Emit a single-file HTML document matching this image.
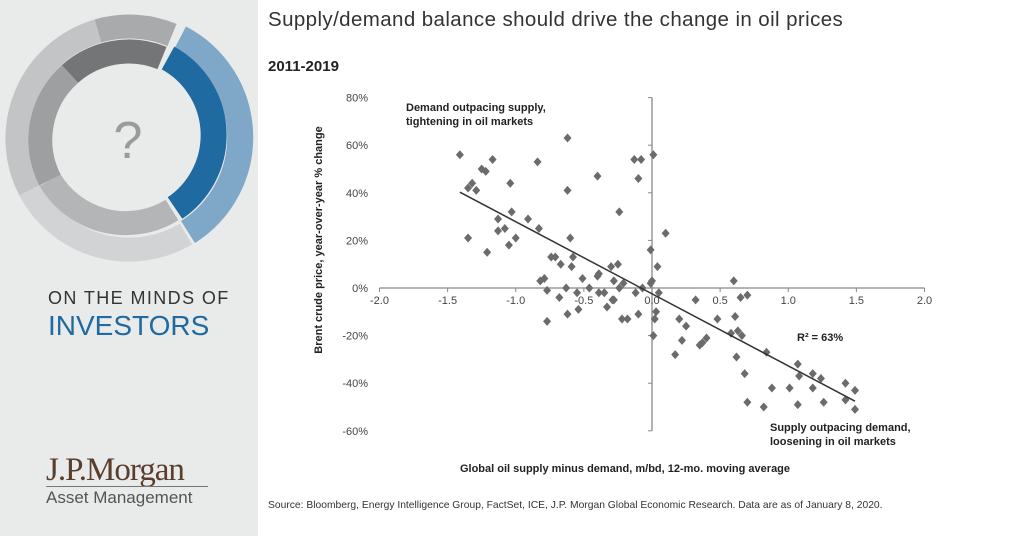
<!DOCTYPE html>
<html><head><meta charset="utf-8"><style>
body{margin:0;width:1024px;height:536px;overflow:hidden;background:#fff;font-family:"Liberation Sans",Arial,sans-serif;position:relative}
#left{position:absolute;left:0;top:0;width:258px;height:536px;background:#e9eaea}
.abs{position:absolute}
</style></head><body>
<div id="left">
<svg class="abs" style="left:0;top:0" width="258" height="270">
<g fill="none">
<path d="M180 38 A112 112 0 0 1 188 232" stroke="#7ea7c8" stroke-width="26"/>
<path d="M168 58 A88 88 0 0 1 175 208" stroke="#1f6aa0" stroke-width="26"/>
<path d="M186 234 A112 112 0 0 1 30 190" stroke="#d2d3d4" stroke-width="24"/>
<path d="M30 190 A112 112 0 0 1 98 31" stroke="#c3c4c5" stroke-width="24"/>
<path d="M98 31 A112 112 0 0 1 172 35" stroke="#a9aaab" stroke-width="24"/>
<path d="M172 210 A88 88 0 0 1 50 180" stroke="#b4b5b6" stroke-width="24"/>
<path d="M50 180 A88 88 0 0 1 70 74" stroke="#9e9fa0" stroke-width="24"/>
<path d="M70 74 A88 88 0 0 1 162 58" stroke="#747576" stroke-width="24"/>
</g>
<text x="128" y="158" font-size="52" fill="#9a9b9c" text-anchor="middle" font-family="Liberation Sans">?</text>
</svg>
<div class="abs" style="left:48px;top:288px;font-size:18px;letter-spacing:1.4px;color:#333">ON THE MINDS OF</div>
<div class="abs" style="left:48px;top:310px;font-size:28px;color:#1f6aa0">INVESTORS</div>
<div class="abs" style="left:46px;top:452px;font-size:33px;color:#5a3e2b;font-family:'Liberation Serif',serif;letter-spacing:-1px">J.P.Morgan</div>
<div class="abs" style="left:46px;top:486px;width:162px;border-top:1px solid #777"></div>
<div class="abs" style="left:46px;top:488px;font-size:17px;color:#555">Asset Management</div>
</div>
<div class="abs" style="left:268px;top:8px;font-size:20.5px;letter-spacing:0.4px;color:#333">Supply/demand balance should drive the change in oil prices</div>
<div class="abs" style="left:268px;top:58px;font-size:15px;font-weight:bold;color:#222">2011-2019</div>
<div class="abs" style="left:268px;top:500px;font-size:10.3px;color:#333">Source: Bloomberg, Energy Intelligence Group, FactSet, ICE, J.P. Morgan Global Economic Research. Data are as of January 8, 2020.</div>
<svg id="chart" class="abs" style="left:0;top:0" width="1024" height="536"></svg>
<script>
const xVals=[-1.41,-1.17,-1.25,-1.22,-1.32,-1.35,-1.29,-1.04,-0.84,-0.62,-0.62,-0.40,-0.13,-0.08,0.01,-0.10,-0.24,-1.35,-1.21,-1.13,-1.13,-1.08,-1.03,-1.00,-1.05,-0.91,-0.83,-0.60,-0.58,-0.74,-0.71,-0.67,-0.59,-0.82,-0.79,-0.77,-0.51,-0.40,-0.39,-0.30,-0.25,-0.28,-0.21,-0.24,-0.63,-0.55,-0.46,-0.39,-0.35,-0.12,-0.01,-0.01,0.04,-0.68,-0.62,-0.54,-0.28,-0.33,-0.22,-0.18,-0.10,-0.77,0.01,0.02,0.10,0.00,0.05,-0.07,-0.29,0.03,0.17,0.20,0.25,0.22,0.32,0.35,0.37,0.40,0.48,0.60,0.65,0.70,0.61,0.58,0.63,0.66,0.62,0.68,0.70,0.82,0.84,0.88,1.01,1.07,1.07,1.08,1.18,1.18,1.24,1.26,1.42,1.42,1.49,1.49];
const yVals=[56,54,50,49,44,42,41,44,53,63,41,47,54,54,56,46,32,21,15,29,24,25,32,21,18,29,25,21,13,13,13,10,9,3,4,-1,4,5,6,9,10,3,2,0,0,-2,0,-2,-2,-2,2,16,9,-4,-11,-9,-5,-8,-13,-13,-11,-14,-20,-13,23,3,-2,0,-5,-10,-28,-13,-16,-22,-5,-24,-23,-21,-13,3,-4,-3,-12,-19,-18,-20,-29,-36,-48,-50,-27,-42,-42,-49,-32,-37,-36,-42,-38,-48,-40,-47,-43,-51];
const xTicks=[-2.0,-1.5,-1.0,-0.5,0.0,0.5,1.0,1.5,2.0];
const yTicks=[80,60,40,20,0,-20,-40,-60];
const NS="http://www.w3.org/2000/svg",svg=document.getElementById('chart');
const sx=v=>652+v*136.25, sy=v=>288-v*2.38;
function mk(t,a,txt){const e=document.createElementNS(NS,t);for(const k in a)e.setAttribute(k,a[k]);if(txt!=null)e.textContent=txt;svg.appendChild(e);return e;}
let e;
e=mk('line',{x1:sx(-2),x2:sx(2),y1:sy(0),y2:sy(0),stroke:'#888','stroke-width':1.3});


e=mk('line',{x1:sx(0),x2:sx(0),y1:sy(80),y2:sy(-60),stroke:'#888','stroke-width':1.3});


xTicks.forEach(t=>{mk('line',{x1:sx(t),x2:sx(t),y1:sy(0),y2:sy(0)+4,stroke:'#888'});
e=mk('text',{x:sx(t),y:sy(0)+16,'font-size':11,fill:'#444','text-anchor':'middle'},t.toFixed(1));

});
yTicks.forEach(t=>{mk('line',{x1:sx(0)-4,x2:sx(0),y1:sy(t),y2:sy(t),stroke:'#888'});
e=mk('text',{x:368,y:sy(t)+4,'font-size':11,fill:'#444','text-anchor':'end'},t+'%');

});
xVals.forEach((x,i)=>{const cx=sx(x),cy=sy(yVals[i]);
e=mk('path',{d:`M${cx} ${cy-4.5}L${cx+4} ${cy}L${cx} ${cy+4.5}L${cx-4} ${cy}Z`,fill:'#6b6b6b'});

});
const n=xVals.length,mx=xVals.reduce((a,b)=>a+b)/n,my=yVals.reduce((a,b)=>a+b)/n;
let sxy=0,sxx=0;xVals.forEach((x,i)=>{sxy+=(x-mx)*(yVals[i]-my);sxx+=(x-mx)**2;});
const b=sxy/sxx,a=my-b*mx,x0=Math.min(...xVals),x1=Math.max(...xVals);
e=mk('line',{x1:sx(x0),y1:sy(a+b*x0),x2:sx(x1),y2:sy(a+b*x1),stroke:'#333','stroke-width':1.5});


const lab=(x,y,t,nm,anchor)=>{e=mk('text',{x:x,y:y,'font-size':11,'font-weight':'bold',fill:'#222','text-anchor':anchor||'start'},t);

};
lab(406,111,'Demand outpacing supply,','annotation-demand');
lab(406,125,'tightening in oil markets','annotation-demand-2');
lab(797,341,'R² = 63%','r-squared-label');
lab(770,431,'Supply outpacing demand,','annotation-supply');
lab(770,445,'loosening in oil markets','annotation-supply-2');
lab(625,472,'Global oil supply minus demand, m/bd, 12-mo. moving average','x-axis-title','middle');
e=mk('text',{x:0,y:0,'font-size':11,'font-weight':'bold',fill:'#222','text-anchor':'middle',transform:'translate(322,240) rotate(-90)'},'Brent crude price, year-over-year % change');


</script>
</body></html>
